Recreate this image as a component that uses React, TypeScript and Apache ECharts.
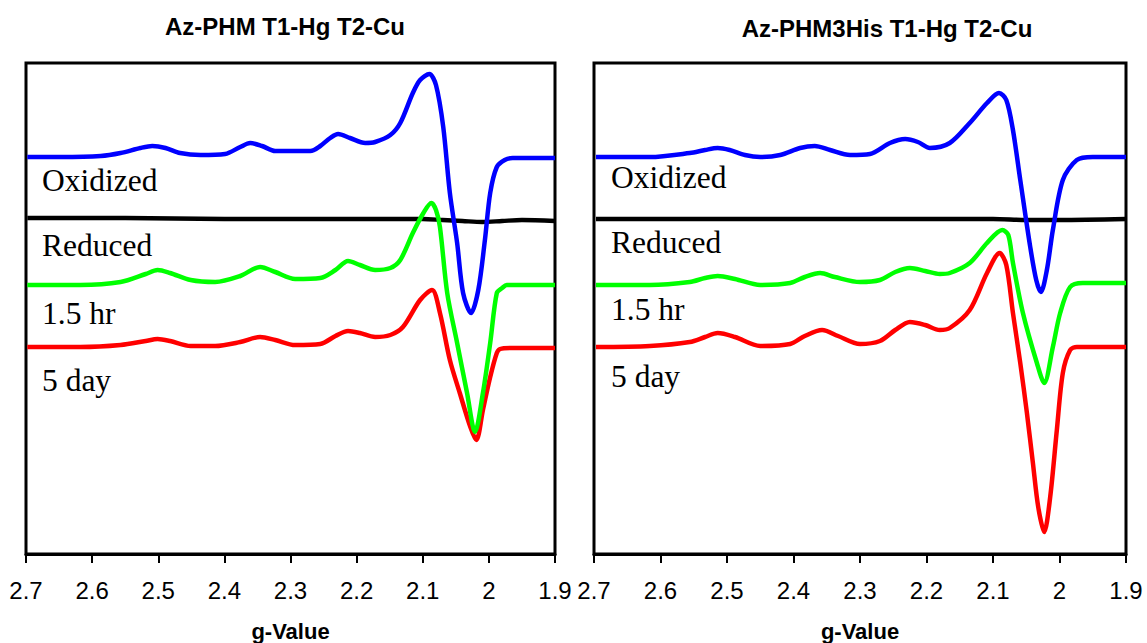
import React, { useEffect, useRef } from "react";
import * as echarts from "echarts";

// g-value axis ticks
const gTicks = [2.7, 2.6, 2.5, 2.4, 2.3, 2.2, 2.1, 2.0, 1.9];
const panelTitles = ["Az-PHM T1-Hg T2-Cu", "Az-PHM3His T1-Hg T2-Cu"];
const traceNames = ["Oxidized", "Reduced", "1.5 hr", "5 day"];
const traceColors = ["#0000FF", "#000000", "#00FF00", "#FF0000"];

// Left panel (Az-PHM), [g, intensity a.u.]
const phmOxidized: [number, number][] = [
  [2.698, 397], [2.648, 397], [2.587, 398], [2.557, 401], [2.527, 406], [2.509, 408], [2.489, 406],
  [2.467, 401], [2.436, 399], [2.399, 400], [2.376, 407], [2.361, 411], [2.343, 408], [2.323, 403],
  [2.27, 403], [2.255, 408], [2.24, 416], [2.228, 420], [2.21, 416], [2.187, 411], [2.172, 412],
  [2.149, 419], [2.134, 431], [2.115, 461], [2.104, 474], [2.09, 480], [2.08, 469], [2.069, 427],
  [2.059, 361], [2.048, 311], [2.039, 261], [2.027, 241], [2.016, 264], [2.006, 314], [1.998, 361],
  [1.988, 387], [1.976, 394], [1.964, 396], [1.9, 396],
];
const phmReduced: [number, number][] = [
  [2.698, 336], [2.55, 336], [2.4, 335], [2.2, 335], [2.1, 335], [2.07, 334], [2.04, 333],
  [2.01, 332], [1.98, 333], [1.95, 334], [1.9, 333],
];
const phm15hr: [number, number][] = [
  [2.698, 269], [2.618, 269], [2.557, 272], [2.519, 280], [2.501, 284], [2.482, 281], [2.451, 274],
  [2.414, 272], [2.376, 278], [2.346, 287], [2.323, 282], [2.293, 275], [2.255, 276], [2.232, 284],
  [2.213, 293], [2.195, 289], [2.172, 284], [2.149, 286], [2.134, 294], [2.115, 321], [2.099, 341],
  [2.087, 351], [2.08, 344], [2.074, 327], [2.063, 261], [2.048, 211], [2.033, 161], [2.021, 122],
  [2.009, 161], [1.998, 211], [1.988, 261], [1.98, 266], [1.973, 269], [1.9, 269],
];
const phm5day: [number, number][] = [
  [2.698, 207], [2.618, 207], [2.557, 209], [2.519, 213], [2.501, 215], [2.482, 213], [2.451, 208],
  [2.414, 208], [2.376, 212], [2.346, 217], [2.323, 214], [2.293, 209], [2.255, 210], [2.232, 218],
  [2.213, 223], [2.195, 221], [2.172, 217], [2.149, 219], [2.13, 227], [2.104, 254], [2.086, 264],
  [2.074, 241], [2.059, 194], [2.044, 161], [2.028, 127], [2.019, 114], [2.009, 144], [1.998, 177],
  [1.988, 201], [1.983, 205], [1.968, 206], [1.9, 206],
];

// Right panel (Az-PHM3His), [g, intensity a.u.]
const his3Oxidized: [number, number][] = [
  [2.697, 397], [2.616, 397], [2.556, 401], [2.533, 404], [2.514, 406], [2.496, 404], [2.473, 399],
  [2.45, 397], [2.42, 399], [2.39, 406], [2.368, 408], [2.345, 404], [2.315, 399], [2.285, 400],
  [2.255, 411], [2.232, 415], [2.213, 412], [2.195, 406], [2.165, 411], [2.135, 431], [2.109, 451],
  [2.091, 461], [2.08, 454], [2.07, 424], [2.059, 374], [2.044, 307], [2.035, 274], [2.028, 262],
  [2.019, 284], [2.01, 324], [1.995, 374], [1.974, 394], [1.95, 397], [1.9, 397],
];
const his3Reduced: [number, number][] = [
  [2.697, 335], [2.5, 335], [2.3, 335], [2.1, 335], [2.05, 334], [2.0, 334], [1.9, 335],
];
const his315hr: [number, number][] = [
  [2.697, 269], [2.616, 269], [2.556, 272], [2.533, 276], [2.514, 278], [2.488, 275], [2.45, 269],
  [2.405, 271], [2.383, 277], [2.36, 281], [2.338, 277], [2.3, 272], [2.27, 274], [2.247, 282],
  [2.225, 286], [2.202, 283], [2.18, 280], [2.165, 281], [2.135, 291], [2.109, 311], [2.086, 324],
  [2.077, 319], [2.07, 291], [2.055, 241], [2.034, 191], [2.023, 171], [2.01, 207], [1.999, 241],
  [1.984, 267], [1.965, 271], [1.9, 271],
];
const his35day: [number, number][] = [
  [2.697, 207], [2.616, 208], [2.556, 212], [2.533, 217], [2.514, 221], [2.488, 217], [2.45, 208],
  [2.405, 210], [2.383, 218], [2.357, 224], [2.333, 218], [2.3, 210], [2.27, 213], [2.247, 224],
  [2.225, 232], [2.202, 229], [2.18, 224], [2.165, 226], [2.135, 244], [2.109, 281], [2.09, 301],
  [2.08, 289], [2.07, 241], [2.059, 191], [2.049, 141], [2.04, 91], [2.032, 47], [2.023, 22],
  [2.014, 57], [2.004, 124], [1.995, 181], [1.984, 204], [1.974, 207], [1.9, 207],
];

const panels = [
  [phmOxidized, phmReduced, phm15hr, phm5day],
  [his3Oxidized, his3Reduced, his315hr, his35day],
];

export default function App() {
  const ref = useRef<HTMLDivElement>(null);
  useEffect(() => {
    if (!ref.current) return;
    const chart = echarts.init(ref.current, undefined, { renderer: "svg" });
    const grids = [
      { left: 26, top: 63, width: 529, height: 491 },
      { left: 594, top: 63, width: 532, height: 491 },
    ];
    const sans = "'Liberation Sans', Arial, sans-serif";
    const serif = "'Liberation Serif', 'Times New Roman', serif";
    const xAxes = grids.map((_, i) => ({
      type: "value",
      gridIndex: i,
      min: gTicks[gTicks.length - 1],
      max: gTicks[0],
      interval: 0.1,
      inverse: true,
      axisLine: { show: true, lineStyle: { color: "#000", width: 3 } },
      axisTick: { show: true, inside: false, length: 9, lineStyle: { color: "#000", width: 2 } },
      axisLabel: {
        color: "#000",
        fontSize: 24,
        fontFamily: sans,
        margin: 24,
        showMinLabel: true,
        showMaxLabel: true,
        hideOverlap: false,
        formatter: (v: number) => String(Math.round(v * 10) / 10),
      },
      splitLine: { show: false },
      name: "g-Value",
      nameLocation: "middle",
      nameGap: 66,
      nameTextStyle: { color: "#000", fontSize: 22, fontWeight: "bold", fontFamily: sans },
    }));
    const yAxes = grids.map((_, i) => ({
      type: "value",
      gridIndex: i,
      min: 0,
      max: 491,
      show: false,
    }));
    const series: any[] = [];
    const drawOrder = [1, 0, 3, 2];
    panels.forEach((traces, p) => {
      drawOrder.forEach((t) => {
        series.push({
          type: "line",
          name: traceNames[t],
          xAxisIndex: p,
          yAxisIndex: p,
          data: traces[t],
          showSymbol: false,
          smooth: 0.3,
          lineStyle: { color: traceColors[t], width: 4.5 },
          z: 3,
        });
      });
    });
    const labelPos = [
      { x: 42, ys: [180, 245, 313, 380] },
      { x: 611, ys: [177, 242, 309, 376] },
    ];
    const graphic: any[] = [];
    labelPos.forEach((lp) => {
      traceNames.forEach((n, i) => {
        graphic.push({
          type: "text",
          x: lp.x,
          y: lp.ys[i],
          style: {
            text: n,
            font: `31.5px ${serif}`,
            fill: "#000",
            textVerticalAlign: "middle",
          },
        });
      });
    });
    const titlePos = [
      { x: 285, y: 26 },
      { x: 887, y: 28 },
    ];
    titlePos.forEach((tp, i) => {
      graphic.push({
        type: "text",
        x: tp.x,
        y: tp.y,
        style: {
          text: panelTitles[i],
          font: `bold 24px ${sans}`,
          fill: "#000",
          textAlign: "center",
          textVerticalAlign: "middle",
        },
      });
    });
    chart.setOption({
      animation: false,
      backgroundColor: "#fff",
      grid: grids.map((g) => ({
        ...g,
        show: true,
        borderColor: "#000",
        borderWidth: 3,
        backgroundColor: "transparent",
        containLabel: false,
        outerBoundsMode: "none",
      })),
      xAxis: xAxes,
      yAxis: yAxes,
      series,
      graphic,
    });
    return () => chart.dispose();
  }, []);
  return (
    <div
      ref={ref}
      style={{ position: "absolute", left: 0, top: 0, width: 1147, height: 643 }}
    />
  );
}
